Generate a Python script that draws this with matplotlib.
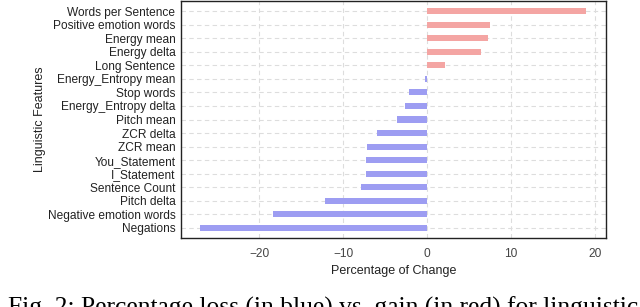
import matplotlib
matplotlib.use("Agg")
import matplotlib.pyplot as plt

# percentage change per linguistic feature (top to bottom as in the figure)
features = ["Words per Sentence", "Positive emotion words", "Energy mean",
            "Energy delta", "Long Sentence", "Energy_Entropy mean", "Stop words",
            "Energy_Entropy delta", "Pitch mean", "ZCR delta", "ZCR mean",
            "You_Statement", "I_Statement", "Sentence Count", "Pitch delta",
            "Negative emotion words", "Negations"]
change = [18.9, 7.5, 7.3, 6.4, 2.1, -0.3, -2.1, -2.6, -3.6, -6.0, -7.1,
          -7.3, -7.3, -7.9, -12.2, -18.3, -27.0]

plt.rcParams["font.family"] = ["Liberation Sans", "DejaVu Sans"]

fig = plt.figure(figsize=(6.4, 3.07), dpi=100)
ax = fig.add_axes([181 / 640, 1 - 238 / 307, 425 / 640, 237 / 307])

ypos = list(range(len(features)))[::-1]
colors = ["#f4a5a3" if v > 0 else "#9d9df2" for v in change]
ax.barh(ypos, change, height=0.45, color=colors, zorder=3)

ax.set_yticks(ypos)
ax.set_yticklabels(features, fontsize=8.6, color="#222222")
ax.set_xlim(-29.3, 21.3)
ax.set_ylim(-0.75, len(features) - 0.25)
ax.set_xticks([-20, -10, 0, 10, 20])
ax.set_xticklabels(["\u221220", "\u221210", "0", "10", "20"], fontsize=8.6, color="#444444")
ax.tick_params(axis="y", length=0, pad=4)
ax.tick_params(axis="x", length=0, pad=7)
ax.grid(True, linestyle=(0, (4, 3)), color="#dddddd", linewidth=0.8, zorder=0)
for s in ax.spines.values():
    s.set_linewidth(1.0)
    s.set_color("#222222")

ax.set_xlabel("Percentage of Change", fontsize=9, labelpad=4, color="#222222")
ax.set_ylabel("Linguistic Features", fontsize=9, labelpad=1, color="#222222")

fig.text(8 / 640, 1 - 315 / 307, "Fig. 2: Percentage loss (in blue) vs. gain (in red) for linguistic",
         fontsize=18.4, family="Liberation Serif", va="baseline")

fig.savefig("out.png", dpi=100)
